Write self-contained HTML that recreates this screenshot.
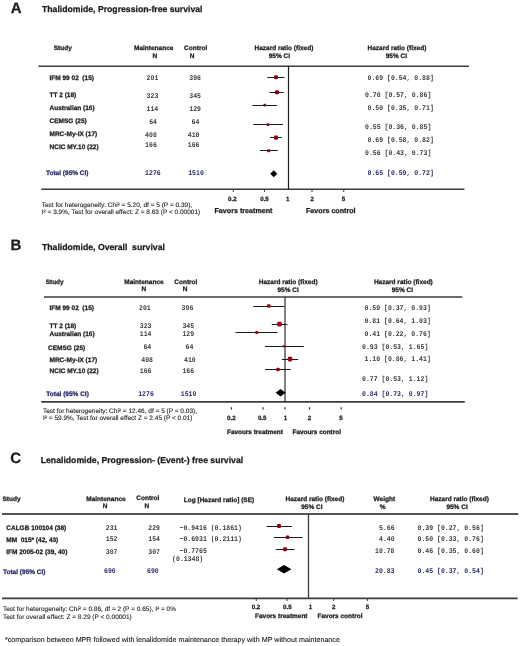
<!DOCTYPE html>
<html><head><meta charset="utf-8"><style>
html,body{margin:0;padding:0;background:#fff;overflow:hidden;width:520px;height:646px;}
svg{display:block;filter:blur(0.3px);}
text{text-rendering:geometricPrecision;}
</style></head><body>
<svg width="520" height="646" viewBox="0 0 520 646">
<rect width="520" height="646" fill="#fff"/>
<text x="10.7" y="13" font-family="Liberation Sans, sans-serif" font-weight="bold" font-size="15" text-anchor="start" fill="#1a1a1a" stroke="#1a1a1a" stroke-width="0.25"  xml:space="preserve">A</text>
<text x="42" y="12.3" font-family="Liberation Sans, sans-serif" font-weight="bold" font-size="8.68" text-anchor="start" fill="#1a1a1a" stroke="#1a1a1a" stroke-width="0.25"  xml:space="preserve">Thalidomide, Progression-free survival</text>
<text x="53.75" y="50.1" font-family="Liberation Sans, sans-serif" font-weight="bold" font-size="6.5" text-anchor="start" fill="#1a1a1a" stroke="#1a1a1a" stroke-width="0.25"  xml:space="preserve">Study</text>
<text x="134" y="50.1" font-family="Liberation Sans, sans-serif" font-weight="bold" font-size="6.5" text-anchor="start" fill="#1a1a1a" stroke="#1a1a1a" stroke-width="0.25"  xml:space="preserve">Maintenance</text>
<text x="154.9" y="58.1" font-family="Liberation Sans, sans-serif" font-weight="bold" font-size="6.5" text-anchor="middle" fill="#1a1a1a" stroke="#1a1a1a" stroke-width="0.25"  xml:space="preserve">N</text>
<text x="184.1" y="50.1" font-family="Liberation Sans, sans-serif" font-weight="bold" font-size="6.5" text-anchor="start" fill="#1a1a1a" stroke="#1a1a1a" stroke-width="0.25"  xml:space="preserve">Control</text>
<text x="192" y="58.2" font-family="Liberation Sans, sans-serif" font-weight="bold" font-size="6.5" text-anchor="middle" fill="#1a1a1a" stroke="#1a1a1a" stroke-width="0.25"  xml:space="preserve">N</text>
<text x="254.5" y="50.1" font-family="Liberation Sans, sans-serif" font-weight="bold" font-size="6.5" text-anchor="start" fill="#1a1a1a" stroke="#1a1a1a" stroke-width="0.25"  xml:space="preserve">Hazard ratio (fixed)</text>
<text x="268.7" y="58.1" font-family="Liberation Sans, sans-serif" font-weight="bold" font-size="6.5" text-anchor="start" fill="#1a1a1a" stroke="#1a1a1a" stroke-width="0.25"  xml:space="preserve">95% CI</text>
<text x="367.5" y="50.1" font-family="Liberation Sans, sans-serif" font-weight="bold" font-size="6.5" text-anchor="start" fill="#1a1a1a" stroke="#1a1a1a" stroke-width="0.25"  xml:space="preserve">Hazard ratio (fixed)</text>
<text x="385.7" y="58.1" font-family="Liberation Sans, sans-serif" font-weight="bold" font-size="6.5" text-anchor="start" fill="#1a1a1a" stroke="#1a1a1a" stroke-width="0.25"  xml:space="preserve">95% CI</text>
<line x1="38.5" y1="66.2" x2="469" y2="66.2" stroke="#3c3c3c" stroke-width="1.5"/>
<line x1="41.25" y1="189.2" x2="464.5" y2="189.2" stroke="#3c3c3c" stroke-width="1.5"/>
<line x1="288.5" y1="66" x2="288.5" y2="189.2" stroke="#1e1e1e" stroke-width="1.2"/>
<line x1="233.25" y1="189" x2="233.25" y2="192" stroke="#3c3c3c" stroke-width="1"/>
<line x1="264.5" y1="189" x2="264.5" y2="192" stroke="#3c3c3c" stroke-width="1"/>
<line x1="312" y1="189" x2="312" y2="192" stroke="#3c3c3c" stroke-width="1"/>
<line x1="343.75" y1="189" x2="343.75" y2="192" stroke="#3c3c3c" stroke-width="1"/>
<text x="232.3" y="200.5" font-family="Liberation Sans, sans-serif" font-weight="bold" font-size="6.2" text-anchor="middle" fill="#1a1a1a" stroke="#1a1a1a" stroke-width="0.25"  xml:space="preserve">0.2</text>
<text x="264.5" y="200.5" font-family="Liberation Sans, sans-serif" font-weight="bold" font-size="6.2" text-anchor="middle" fill="#1a1a1a" stroke="#1a1a1a" stroke-width="0.25"  xml:space="preserve">0.5</text>
<text x="287.8" y="200.5" font-family="Liberation Sans, sans-serif" font-weight="bold" font-size="6.2" text-anchor="middle" fill="#1a1a1a" stroke="#1a1a1a" stroke-width="0.25"  xml:space="preserve">1</text>
<text x="312.3" y="200.5" font-family="Liberation Sans, sans-serif" font-weight="bold" font-size="6.2" text-anchor="middle" fill="#1a1a1a" stroke="#1a1a1a" stroke-width="0.25"  xml:space="preserve">2</text>
<text x="343.5" y="200.5" font-family="Liberation Sans, sans-serif" font-weight="bold" font-size="6.2" text-anchor="middle" fill="#1a1a1a" stroke="#1a1a1a" stroke-width="0.25"  xml:space="preserve">5</text>
<text x="214.5" y="212.5" font-family="Liberation Sans, sans-serif" font-weight="bold" font-size="7.15" text-anchor="start" fill="#1a1a1a" stroke="#1a1a1a" stroke-width="0.25"  xml:space="preserve">Favors treatment</text>
<text x="306" y="212.5" font-family="Liberation Sans, sans-serif" font-weight="bold" font-size="7.15" text-anchor="start" fill="#1a1a1a" stroke="#1a1a1a" stroke-width="0.25"  xml:space="preserve">Favors control</text>
<text x="41.75" y="207.3" font-family="Liberation Sans, sans-serif" font-weight="normal" font-size="6.5" text-anchor="start" fill="#1a1a1a" stroke="#1a1a1a" stroke-width="0.1"  xml:space="preserve">Test for heterogeneity: Chi² = 5.20, df = 5 (P = 0.39),</text>
<text x="41.75" y="213.6" font-family="Liberation Sans, sans-serif" font-weight="normal" font-size="6.5" text-anchor="start" fill="#1a1a1a" stroke="#1a1a1a" stroke-width="0.1"  xml:space="preserve">I² = 3.9%, Test for overall effect: Z = 8.63 (P &lt; 0.00001)</text>
<text x="49.5" y="79.6" font-family="Liberation Sans, sans-serif" font-weight="bold" font-size="6.5" text-anchor="start" fill="#1a1a1a" stroke="#1a1a1a" stroke-width="0.25"  xml:space="preserve">IFM 99 02  (15)</text>
<text transform="translate(146.6 80.2) scale(1.0 1.12)" font-family="Liberation Mono, monospace" font-weight="bold" font-size="6.5" letter-spacing="0.000" fill="#3a3a3a" stroke="#3a3a3a" stroke-width="0" xml:space="preserve">201</text>
<text transform="translate(189.3 80.2) scale(1.0 1.12)" font-family="Liberation Mono, monospace" font-weight="bold" font-size="6.5" letter-spacing="0.000" fill="#3a3a3a" stroke="#3a3a3a" stroke-width="0" xml:space="preserve">396</text>
<text transform="translate(367.5 80.0) scale(1.0 1.12)" font-family="Liberation Mono, monospace" font-weight="bold" font-size="6.5" letter-spacing="0.000" fill="#3a3a3a" stroke="#3a3a3a" stroke-width="0" xml:space="preserve">0.69 [0.54, 0.88]</text>
<line x1="267.3" y1="77.5" x2="284.5" y2="77.5" stroke="#1a1a1a" stroke-width="1.0"/>
<rect x="274.05" y="75.35" width="3.90" height="3.90" rx="1.17" fill="#8e0016"/>
<text x="49.5" y="96.6" font-family="Liberation Sans, sans-serif" font-weight="bold" font-size="6.5" text-anchor="start" fill="#1a1a1a" stroke="#1a1a1a" stroke-width="0.25"  xml:space="preserve">TT 2 (18)</text>
<text transform="translate(146.6 97.9) scale(1.0 1.12)" font-family="Liberation Mono, monospace" font-weight="bold" font-size="6.5" letter-spacing="0.000" fill="#3a3a3a" stroke="#3a3a3a" stroke-width="0" xml:space="preserve">323</text>
<text transform="translate(189.3 97.9) scale(1.0 1.12)" font-family="Liberation Mono, monospace" font-weight="bold" font-size="6.5" letter-spacing="0.000" fill="#3a3a3a" stroke="#3a3a3a" stroke-width="0" xml:space="preserve">345</text>
<text transform="translate(365.0 97.0) scale(1.0 1.12)" font-family="Liberation Mono, monospace" font-weight="bold" font-size="6.5" letter-spacing="0.000" fill="#3a3a3a" stroke="#3a3a3a" stroke-width="0" xml:space="preserve">0.70 [0.57, 0.86]</text>
<line x1="269.5" y1="92.5" x2="283.7" y2="92.5" stroke="#1a1a1a" stroke-width="1.0"/>
<rect x="274.95" y="90.20" width="4.10" height="4.10" rx="1.23" fill="#8e0016"/>
<text x="49.5" y="109.6" font-family="Liberation Sans, sans-serif" font-weight="bold" font-size="6.5" text-anchor="start" fill="#1a1a1a" stroke="#1a1a1a" stroke-width="0.25"  xml:space="preserve">Australian (16)</text>
<text transform="translate(146.5 110.7) scale(1.0 1.12)" font-family="Liberation Mono, monospace" font-weight="bold" font-size="6.5" letter-spacing="0.000" fill="#3a3a3a" stroke="#3a3a3a" stroke-width="0" xml:space="preserve">114</text>
<text transform="translate(189.3 110.7) scale(1.0 1.12)" font-family="Liberation Mono, monospace" font-weight="bold" font-size="6.5" letter-spacing="0.000" fill="#3a3a3a" stroke="#3a3a3a" stroke-width="0" xml:space="preserve">129</text>
<text transform="translate(367.5 110.0) scale(1.0 1.12)" font-family="Liberation Mono, monospace" font-weight="bold" font-size="6.5" letter-spacing="0.000" fill="#3a3a3a" stroke="#3a3a3a" stroke-width="0" xml:space="preserve">0.50 [0.35, 0.71]</text>
<line x1="252.5" y1="105.5" x2="276.9" y2="105.5" stroke="#1a1a1a" stroke-width="1.0"/>
<rect x="263.35" y="103.85" width="2.70" height="2.70" rx="0.81" fill="#8e0016"/>
<text x="49.5" y="122.6" font-family="Liberation Sans, sans-serif" font-weight="bold" font-size="6.5" text-anchor="start" fill="#1a1a1a" stroke="#1a1a1a" stroke-width="0.25"  xml:space="preserve">CEMSG (25)</text>
<text transform="translate(149.2 123.7) scale(1.0 1.12)" font-family="Liberation Mono, monospace" font-weight="bold" font-size="6.5" letter-spacing="0.000" fill="#3a3a3a" stroke="#3a3a3a" stroke-width="0" xml:space="preserve">64</text>
<text transform="translate(191.5 123.7) scale(1.0 1.12)" font-family="Liberation Mono, monospace" font-weight="bold" font-size="6.5" letter-spacing="0.000" fill="#3a3a3a" stroke="#3a3a3a" stroke-width="0" xml:space="preserve">64</text>
<text transform="translate(365.0 129.0) scale(1.0 1.12)" font-family="Liberation Mono, monospace" font-weight="bold" font-size="6.5" letter-spacing="0.000" fill="#3a3a3a" stroke="#3a3a3a" stroke-width="0" xml:space="preserve">0.55 [0.36, 0.85]</text>
<line x1="253.2" y1="124.5" x2="283.0" y2="124.5" stroke="#1a1a1a" stroke-width="1.0"/>
<rect x="266.55" y="123.35" width="2.70" height="2.70" rx="0.81" fill="#8e0016"/>
<text x="49.5" y="135.6" font-family="Liberation Sans, sans-serif" font-weight="bold" font-size="6.5" text-anchor="start" fill="#1a1a1a" stroke="#1a1a1a" stroke-width="0.25"  xml:space="preserve">MRC-My-IX (17)</text>
<text transform="translate(145.1 136.7) scale(1.0 1.12)" font-family="Liberation Mono, monospace" font-weight="bold" font-size="6.5" letter-spacing="0.000" fill="#3a3a3a" stroke="#3a3a3a" stroke-width="0" xml:space="preserve">408</text>
<text transform="translate(187.8 136.7) scale(1.0 1.12)" font-family="Liberation Mono, monospace" font-weight="bold" font-size="6.5" letter-spacing="0.000" fill="#3a3a3a" stroke="#3a3a3a" stroke-width="0" xml:space="preserve">410</text>
<text transform="translate(367.5 142.0) scale(1.0 1.12)" font-family="Liberation Mono, monospace" font-weight="bold" font-size="6.5" letter-spacing="0.000" fill="#3a3a3a" stroke="#3a3a3a" stroke-width="0" xml:space="preserve">0.69 [0.58, 0.82]</text>
<line x1="270" y1="137.5" x2="281.7" y2="137.5" stroke="#1a1a1a" stroke-width="1.0"/>
<rect x="273.95" y="135.55" width="4.10" height="4.10" rx="1.23" fill="#8e0016"/>
<text x="49.5" y="148.6" font-family="Liberation Sans, sans-serif" font-weight="bold" font-size="6.5" text-anchor="start" fill="#1a1a1a" stroke="#1a1a1a" stroke-width="0.25"  xml:space="preserve">NCIC MY.10 (22)</text>
<text transform="translate(145.1 147.1) scale(1.0 1.12)" font-family="Liberation Mono, monospace" font-weight="bold" font-size="6.5" letter-spacing="0.000" fill="#3a3a3a" stroke="#3a3a3a" stroke-width="0" xml:space="preserve">166</text>
<text transform="translate(187.8 147.1) scale(1.0 1.12)" font-family="Liberation Mono, monospace" font-weight="bold" font-size="6.5" letter-spacing="0.000" fill="#3a3a3a" stroke="#3a3a3a" stroke-width="0" xml:space="preserve">166</text>
<text transform="translate(365.0 155.0) scale(1.0 1.12)" font-family="Liberation Mono, monospace" font-weight="bold" font-size="6.5" letter-spacing="0.000" fill="#3a3a3a" stroke="#3a3a3a" stroke-width="0" xml:space="preserve">0.56 [0.43, 0.73]</text>
<line x1="259.9" y1="150.5" x2="277.7" y2="150.5" stroke="#1a1a1a" stroke-width="1.0"/>
<rect x="267.05" y="149.15" width="3.10" height="3.10" rx="0.93" fill="#8e0016"/>
<text x="46" y="174.8" font-family="Liberation Sans, sans-serif" font-weight="bold" font-size="6.5" text-anchor="start" fill="#2a2a6c" stroke="#2a2a6c" stroke-width="0.25"  xml:space="preserve">Total (95% CI)</text>
<text transform="translate(145.1 174.6) scale(1.0 1.12)" font-family="Liberation Mono, monospace" font-weight="bold" font-size="6.5" letter-spacing="0.000" fill="#2a2a6c" stroke="#2a2a6c" stroke-width="0" xml:space="preserve">1276</text>
<text transform="translate(188.2 174.6) scale(1.0 1.12)" font-family="Liberation Mono, monospace" font-weight="bold" font-size="6.5" letter-spacing="0.000" fill="#2a2a6c" stroke="#2a2a6c" stroke-width="0" xml:space="preserve">1510</text>
<text transform="translate(367.5 175.0) scale(1.0 1.12)" font-family="Liberation Mono, monospace" font-weight="bold" font-size="6.5" letter-spacing="0.000" fill="#2a2a6c" stroke="#2a2a6c" stroke-width="0" xml:space="preserve">0.65 [0.59, 0.72]</text>
<polygon points="270.25,173.75 273.75,170.25 277.25,173.75 273.75,177.25" fill="#000"/>
<text x="10.5" y="250" font-family="Liberation Sans, sans-serif" font-weight="bold" font-size="15" text-anchor="start" fill="#1a1a1a" stroke="#1a1a1a" stroke-width="0.25"  xml:space="preserve">B</text>
<text x="42" y="250.2" font-family="Liberation Sans, sans-serif" font-weight="bold" font-size="8.68" text-anchor="start" fill="#1a1a1a" stroke="#1a1a1a" stroke-width="0.25"  xml:space="preserve">Thalidomide, Overall  survival</text>
<text x="45.65" y="284.1" font-family="Liberation Sans, sans-serif" font-weight="bold" font-size="6.5" text-anchor="start" fill="#1a1a1a" stroke="#1a1a1a" stroke-width="0.25"  xml:space="preserve">Study</text>
<text x="124.25" y="284.0" font-family="Liberation Sans, sans-serif" font-weight="bold" font-size="6.5" text-anchor="start" fill="#1a1a1a" stroke="#1a1a1a" stroke-width="0.25"  xml:space="preserve">Maintenance</text>
<text x="143.75" y="291.4" font-family="Liberation Sans, sans-serif" font-weight="bold" font-size="6.5" text-anchor="middle" fill="#1a1a1a" stroke="#1a1a1a" stroke-width="0.25"  xml:space="preserve">N</text>
<text x="174.25" y="284.0" font-family="Liberation Sans, sans-serif" font-weight="bold" font-size="6.5" text-anchor="start" fill="#1a1a1a" stroke="#1a1a1a" stroke-width="0.25"  xml:space="preserve">Control</text>
<text x="185" y="291.4" font-family="Liberation Sans, sans-serif" font-weight="bold" font-size="6.5" text-anchor="middle" fill="#1a1a1a" stroke="#1a1a1a" stroke-width="0.25"  xml:space="preserve">N</text>
<text x="258.75" y="284.2" font-family="Liberation Sans, sans-serif" font-weight="bold" font-size="6.5" text-anchor="start" fill="#1a1a1a" stroke="#1a1a1a" stroke-width="0.25"  xml:space="preserve">Hazard ratio (fixed)</text>
<text x="277.5" y="291.5" font-family="Liberation Sans, sans-serif" font-weight="bold" font-size="6.5" text-anchor="start" fill="#1a1a1a" stroke="#1a1a1a" stroke-width="0.25"  xml:space="preserve">95% CI</text>
<text x="373.9" y="284.1" font-family="Liberation Sans, sans-serif" font-weight="bold" font-size="6.5" text-anchor="start" fill="#1a1a1a" stroke="#1a1a1a" stroke-width="0.25"  xml:space="preserve">Hazard ratio (fixed)</text>
<text x="391.7" y="291.5" font-family="Liberation Sans, sans-serif" font-weight="bold" font-size="6.5" text-anchor="start" fill="#1a1a1a" stroke="#1a1a1a" stroke-width="0.25"  xml:space="preserve">95% CI</text>
<line x1="44" y1="297.1" x2="462.3" y2="297.1" stroke="#3c3c3c" stroke-width="1.5"/>
<line x1="41.2" y1="401.85" x2="464.8" y2="401.85" stroke="#3c3c3c" stroke-width="1.7"/>
<line x1="285" y1="297" x2="285" y2="401.8" stroke="#3c3c3c" stroke-width="1.3"/>
<line x1="231.4" y1="407.2" x2="231.4" y2="409.6" stroke="#333" stroke-width="1.2"/>
<line x1="263" y1="407.2" x2="263" y2="409.6" stroke="#333" stroke-width="1.2"/>
<line x1="285" y1="407.2" x2="285" y2="409.6" stroke="#333" stroke-width="1.2"/>
<line x1="309.5" y1="407.2" x2="309.5" y2="409.6" stroke="#333" stroke-width="1.2"/>
<line x1="341.2" y1="407.2" x2="341.2" y2="409.6" stroke="#333" stroke-width="1.2"/>
<text x="231.3" y="419.6" font-family="Liberation Sans, sans-serif" font-weight="bold" font-size="6.2" text-anchor="middle" fill="#1a1a1a" stroke="#1a1a1a" stroke-width="0.25"  xml:space="preserve">0.2</text>
<text x="262.2" y="419.6" font-family="Liberation Sans, sans-serif" font-weight="bold" font-size="6.2" text-anchor="middle" fill="#1a1a1a" stroke="#1a1a1a" stroke-width="0.25"  xml:space="preserve">0.5</text>
<text x="285.6" y="419.6" font-family="Liberation Sans, sans-serif" font-weight="bold" font-size="6.2" text-anchor="middle" fill="#1a1a1a" stroke="#1a1a1a" stroke-width="0.25"  xml:space="preserve">1</text>
<text x="309.4" y="419.6" font-family="Liberation Sans, sans-serif" font-weight="bold" font-size="6.2" text-anchor="middle" fill="#1a1a1a" stroke="#1a1a1a" stroke-width="0.25"  xml:space="preserve">2</text>
<text x="341" y="419.6" font-family="Liberation Sans, sans-serif" font-weight="bold" font-size="6.2" text-anchor="middle" fill="#1a1a1a" stroke="#1a1a1a" stroke-width="0.25"  xml:space="preserve">5</text>
<text x="227" y="433.8" font-family="Liberation Sans, sans-serif" font-weight="bold" font-size="6.42" text-anchor="start" fill="#1a1a1a" stroke="#1a1a1a" stroke-width="0.25"  xml:space="preserve">Favours treatment</text>
<text x="292.5" y="433.8" font-family="Liberation Sans, sans-serif" font-weight="bold" font-size="6.42" text-anchor="start" fill="#1a1a1a" stroke="#1a1a1a" stroke-width="0.25"  xml:space="preserve">Favours control</text>
<text x="43" y="413.1" font-family="Liberation Sans, sans-serif" font-weight="normal" font-size="6.5" text-anchor="start" fill="#1a1a1a" stroke="#1a1a1a" stroke-width="0.1"  xml:space="preserve">Test for heterogeneity: Chi² = 12.46, df = 5 (P = 0.03),</text>
<text x="43" y="419.6" font-family="Liberation Sans, sans-serif" font-weight="normal" font-size="6.5" text-anchor="start" fill="#1a1a1a" stroke="#1a1a1a" stroke-width="0.1"  xml:space="preserve">I² = 59.9%, Test for overall effect Z = 2.45 (P &lt; 0.01)</text>
<text x="49.5" y="309.8" font-family="Liberation Sans, sans-serif" font-weight="bold" font-size="6.5" text-anchor="start" fill="#1a1a1a" stroke="#1a1a1a" stroke-width="0.25"  xml:space="preserve">IFM 99 02  (15)</text>
<text transform="translate(139.0 309.8) scale(1.0 1.12)" font-family="Liberation Mono, monospace" font-weight="bold" font-size="6.5" letter-spacing="0.000" fill="#3a3a3a" stroke="#3a3a3a" stroke-width="0" xml:space="preserve">201</text>
<text transform="translate(181.6 309.8) scale(1.0 1.12)" font-family="Liberation Mono, monospace" font-weight="bold" font-size="6.5" letter-spacing="0.000" fill="#3a3a3a" stroke="#3a3a3a" stroke-width="0" xml:space="preserve">396</text>
<text transform="translate(364.5 309.5) scale(1.0 1.12)" font-family="Liberation Mono, monospace" font-weight="bold" font-size="6.5" letter-spacing="0.000" fill="#3a3a3a" stroke="#3a3a3a" stroke-width="0" xml:space="preserve">0.59 [0.37, 0.93]</text>
<line x1="253.25" y1="306.5" x2="284.5" y2="306.5" stroke="#1a1a1a" stroke-width="1.0"/>
<rect x="266.95" y="304.20" width="3.60" height="3.60" rx="1.08" fill="#a8000f"/>
<text x="49.5" y="327.5" font-family="Liberation Sans, sans-serif" font-weight="bold" font-size="6.5" text-anchor="start" fill="#1a1a1a" stroke="#1a1a1a" stroke-width="0.25"  xml:space="preserve">TT 2 (18)</text>
<text transform="translate(139.8 328.0) scale(1.0 1.12)" font-family="Liberation Mono, monospace" font-weight="bold" font-size="6.5" letter-spacing="0.000" fill="#3a3a3a" stroke="#3a3a3a" stroke-width="0" xml:space="preserve">323</text>
<text transform="translate(182.4 328.0) scale(1.0 1.12)" font-family="Liberation Mono, monospace" font-weight="bold" font-size="6.5" letter-spacing="0.000" fill="#3a3a3a" stroke="#3a3a3a" stroke-width="0" xml:space="preserve">345</text>
<text transform="translate(364.5 323.0) scale(1.0 1.12)" font-family="Liberation Mono, monospace" font-weight="bold" font-size="6.5" letter-spacing="0.000" fill="#3a3a3a" stroke="#3a3a3a" stroke-width="0" xml:space="preserve">0.81 [0.64, 1.03]</text>
<line x1="271.75" y1="324.5" x2="287.5" y2="324.5" stroke="#1a1a1a" stroke-width="1.0"/>
<rect x="277.10" y="321.70" width="4.80" height="4.80" rx="1.44" fill="#a8000f"/>
<text x="49.5" y="335.8" font-family="Liberation Sans, sans-serif" font-weight="bold" font-size="6.5" text-anchor="start" fill="#1a1a1a" stroke="#1a1a1a" stroke-width="0.25"  xml:space="preserve">Australian (16)</text>
<text transform="translate(139.8 335.6) scale(1.0 1.12)" font-family="Liberation Mono, monospace" font-weight="bold" font-size="6.5" letter-spacing="0.000" fill="#3a3a3a" stroke="#3a3a3a" stroke-width="0" xml:space="preserve">114</text>
<text transform="translate(182.4 335.6) scale(1.0 1.12)" font-family="Liberation Mono, monospace" font-weight="bold" font-size="6.5" letter-spacing="0.000" fill="#3a3a3a" stroke="#3a3a3a" stroke-width="0" xml:space="preserve">129</text>
<text transform="translate(364.5 335.5) scale(1.0 1.12)" font-family="Liberation Mono, monospace" font-weight="bold" font-size="6.5" letter-spacing="0.000" fill="#3a3a3a" stroke="#3a3a3a" stroke-width="0" xml:space="preserve">0.41 [0.22, 0.76]</text>
<line x1="235.5" y1="332.5" x2="277.5" y2="332.5" stroke="#1a1a1a" stroke-width="1.0"/>
<rect x="255.25" y="331.00" width="3.00" height="3.00" rx="0.90" fill="#a8000f"/>
<text x="48.0" y="349.8" font-family="Liberation Sans, sans-serif" font-weight="bold" font-size="6.5" text-anchor="start" fill="#1a1a1a" stroke="#1a1a1a" stroke-width="0.25"  xml:space="preserve">CEMSG (25)</text>
<text transform="translate(143.4 348.9) scale(1.0 1.12)" font-family="Liberation Mono, monospace" font-weight="bold" font-size="6.5" letter-spacing="0.000" fill="#3a3a3a" stroke="#3a3a3a" stroke-width="0" xml:space="preserve">64</text>
<text transform="translate(185.6 348.9) scale(1.0 1.12)" font-family="Liberation Mono, monospace" font-weight="bold" font-size="6.5" letter-spacing="0.000" fill="#3a3a3a" stroke="#3a3a3a" stroke-width="0" xml:space="preserve">64</text>
<text transform="translate(362.0 348.75) scale(1.0 1.12)" font-family="Liberation Mono, monospace" font-weight="bold" font-size="6.5" letter-spacing="0.000" fill="#3a3a3a" stroke="#3a3a3a" stroke-width="0" xml:space="preserve">0.93 [0.53, 1.65]</text>
<line x1="265.0" y1="346.5" x2="303.75" y2="346.5" stroke="#1a1a1a" stroke-width="1.0"/>
<rect x="282.95" y="344.95" width="2.60" height="2.60" rx="0.78" fill="#a8000f"/>
<text x="49.5" y="361.8" font-family="Liberation Sans, sans-serif" font-weight="bold" font-size="6.5" text-anchor="start" fill="#1a1a1a" stroke="#1a1a1a" stroke-width="0.25"  xml:space="preserve">MRC-My-IX (17)</text>
<text transform="translate(141.3 361.5) scale(1.0 1.12)" font-family="Liberation Mono, monospace" font-weight="bold" font-size="6.5" letter-spacing="0.000" fill="#3a3a3a" stroke="#3a3a3a" stroke-width="0" xml:space="preserve">408</text>
<text transform="translate(184.0 361.5) scale(1.0 1.12)" font-family="Liberation Mono, monospace" font-weight="bold" font-size="6.5" letter-spacing="0.000" fill="#3a3a3a" stroke="#3a3a3a" stroke-width="0" xml:space="preserve">410</text>
<text transform="translate(364.5 361.25) scale(1.0 1.12)" font-family="Liberation Mono, monospace" font-weight="bold" font-size="6.5" letter-spacing="0.000" fill="#3a3a3a" stroke="#3a3a3a" stroke-width="0" xml:space="preserve">1.10 [0.86, 1.41]</text>
<line x1="281.75" y1="359.5" x2="298.25" y2="359.5" stroke="#1a1a1a" stroke-width="1.0"/>
<rect x="287.70" y="356.80" width="4.60" height="4.60" rx="1.38" fill="#a8000f"/>
<text x="49.5" y="373.4" font-family="Liberation Sans, sans-serif" font-weight="bold" font-size="6.5" text-anchor="start" fill="#1a1a1a" stroke="#1a1a1a" stroke-width="0.25"  xml:space="preserve">NCIC MY.10 (22)</text>
<text transform="translate(139.8 373.4) scale(1.0 1.12)" font-family="Liberation Mono, monospace" font-weight="bold" font-size="6.5" letter-spacing="0.000" fill="#3a3a3a" stroke="#3a3a3a" stroke-width="0" xml:space="preserve">166</text>
<text transform="translate(182.4 373.4) scale(1.0 1.12)" font-family="Liberation Mono, monospace" font-weight="bold" font-size="6.5" letter-spacing="0.000" fill="#3a3a3a" stroke="#3a3a3a" stroke-width="0" xml:space="preserve">166</text>
<text transform="translate(362.0 381.25) scale(1.0 1.12)" font-family="Liberation Mono, monospace" font-weight="bold" font-size="6.5" letter-spacing="0.000" fill="#3a3a3a" stroke="#3a3a3a" stroke-width="0" xml:space="preserve">0.77 [0.53, 1.12]</text>
<line x1="265.0" y1="369.5" x2="290.75" y2="369.5" stroke="#1a1a1a" stroke-width="1.0"/>
<rect x="276.20" y="367.70" width="3.60" height="3.60" rx="1.08" fill="#a8000f"/>
<text x="46.3" y="395.6" font-family="Liberation Sans, sans-serif" font-weight="bold" font-size="6.5" text-anchor="start" fill="#2a2a6c" stroke="#2a2a6c" stroke-width="0.25"  xml:space="preserve">Total (95% CI)</text>
<text transform="translate(138.2 395.9) scale(1.0 1.12)" font-family="Liberation Mono, monospace" font-weight="bold" font-size="6.5" letter-spacing="0.000" fill="#2a2a6c" stroke="#2a2a6c" stroke-width="0" xml:space="preserve">1276</text>
<text transform="translate(180.8 395.9) scale(1.0 1.12)" font-family="Liberation Mono, monospace" font-weight="bold" font-size="6.5" letter-spacing="0.000" fill="#2a2a6c" stroke="#2a2a6c" stroke-width="0" xml:space="preserve">1510</text>
<text transform="translate(362.0 395.75) scale(1.0 1.12)" font-family="Liberation Mono, monospace" font-weight="bold" font-size="6.5" letter-spacing="0.000" fill="#2a2a6c" stroke="#2a2a6c" stroke-width="0" xml:space="preserve">0.84 [0.73, 0.97]</text>
<polygon points="275.6,392.7 280.6,389.0 285.6,392.7 280.6,396.4" fill="#000"/>
<text x="10.3" y="462.7" font-family="Liberation Sans, sans-serif" font-weight="bold" font-size="15" text-anchor="start" fill="#1a1a1a" stroke="#1a1a1a" stroke-width="0.25"  xml:space="preserve">C</text>
<text x="40.75" y="463.4" font-family="Liberation Sans, sans-serif" font-weight="bold" font-size="8.68" text-anchor="start" fill="#1a1a1a" stroke="#1a1a1a" stroke-width="0.25"  xml:space="preserve">Lenalidomide, Progression- (Event-) free survival</text>
<text x="2.5" y="500.8" font-family="Liberation Sans, sans-serif" font-weight="bold" font-size="6.5" text-anchor="start" fill="#1a1a1a" stroke="#1a1a1a" stroke-width="0.25"  xml:space="preserve">Study</text>
<text x="86.25" y="500.8" font-family="Liberation Sans, sans-serif" font-weight="bold" font-size="6.5" text-anchor="start" fill="#1a1a1a" stroke="#1a1a1a" stroke-width="0.25"  xml:space="preserve">Maintenance</text>
<text x="105" y="508.4" font-family="Liberation Sans, sans-serif" font-weight="bold" font-size="6.5" text-anchor="middle" fill="#1a1a1a" stroke="#1a1a1a" stroke-width="0.25"  xml:space="preserve">N</text>
<text x="136.25" y="500.4" font-family="Liberation Sans, sans-serif" font-weight="bold" font-size="6.5" text-anchor="start" fill="#1a1a1a" stroke="#1a1a1a" stroke-width="0.25"  xml:space="preserve">Control</text>
<text x="146.75" y="508.4" font-family="Liberation Sans, sans-serif" font-weight="bold" font-size="6.5" text-anchor="middle" fill="#1a1a1a" stroke="#1a1a1a" stroke-width="0.25"  xml:space="preserve">N</text>
<text x="183.75" y="501.7" font-family="Liberation Sans, sans-serif" font-weight="bold" font-size="6.5" text-anchor="start" fill="#1a1a1a" stroke="#1a1a1a" stroke-width="0.25"  xml:space="preserve">Log [Hazard ratio] (SE)</text>
<text x="285.5" y="500.8" font-family="Liberation Sans, sans-serif" font-weight="bold" font-size="6.5" text-anchor="start" fill="#1a1a1a" stroke="#1a1a1a" stroke-width="0.25"  xml:space="preserve">Hazard ratio (fixed)</text>
<text x="301.25" y="508.5" font-family="Liberation Sans, sans-serif" font-weight="bold" font-size="6.5" text-anchor="start" fill="#1a1a1a" stroke="#1a1a1a" stroke-width="0.25"  xml:space="preserve">95% CI</text>
<text x="373.5" y="500.5" font-family="Liberation Sans, sans-serif" font-weight="bold" font-size="6.5" text-anchor="start" fill="#1a1a1a" stroke="#1a1a1a" stroke-width="0.25"  xml:space="preserve">Weight</text>
<text x="382.7" y="508.8" font-family="Liberation Sans, sans-serif" font-weight="bold" font-size="6.5" text-anchor="middle" fill="#1a1a1a" stroke="#1a1a1a" stroke-width="0.25"  xml:space="preserve">%</text>
<text x="430" y="500.5" font-family="Liberation Sans, sans-serif" font-weight="bold" font-size="6.5" text-anchor="start" fill="#1a1a1a" stroke="#1a1a1a" stroke-width="0.25"  xml:space="preserve">Hazard ratio (fixed)</text>
<text x="446.4" y="508.8" font-family="Liberation Sans, sans-serif" font-weight="bold" font-size="6.5" text-anchor="start" fill="#1a1a1a" stroke="#1a1a1a" stroke-width="0.25"  xml:space="preserve">95% CI</text>
<line x1="2" y1="513.9" x2="518.3" y2="513.9" stroke="#555" stroke-width="2"/>
<line x1="2" y1="598.4" x2="517.7" y2="598.4" stroke="#3c3c3c" stroke-width="1.6"/>
<line x1="308.5" y1="514" x2="308.5" y2="598.4" stroke="#3c3c3c" stroke-width="1.3"/>
<line x1="256.25" y1="598.4" x2="256.25" y2="601" stroke="#3c3c3c" stroke-width="1"/>
<line x1="287" y1="598.4" x2="287" y2="601" stroke="#3c3c3c" stroke-width="1"/>
<line x1="333.75" y1="598.4" x2="333.75" y2="601" stroke="#3c3c3c" stroke-width="1"/>
<line x1="367.3" y1="598.4" x2="367.3" y2="601" stroke="#3c3c3c" stroke-width="1"/>
<text x="256" y="609.2" font-family="Liberation Sans, sans-serif" font-weight="bold" font-size="6.2" text-anchor="middle" fill="#1a1a1a" stroke="#1a1a1a" stroke-width="0.25"  xml:space="preserve">0.2</text>
<text x="287.3" y="609.2" font-family="Liberation Sans, sans-serif" font-weight="bold" font-size="6.2" text-anchor="middle" fill="#1a1a1a" stroke="#1a1a1a" stroke-width="0.25"  xml:space="preserve">0.5</text>
<text x="310.5" y="609.2" font-family="Liberation Sans, sans-serif" font-weight="bold" font-size="6.2" text-anchor="middle" fill="#1a1a1a" stroke="#1a1a1a" stroke-width="0.25"  xml:space="preserve">1</text>
<text x="333.8" y="609.2" font-family="Liberation Sans, sans-serif" font-weight="bold" font-size="6.2" text-anchor="middle" fill="#1a1a1a" stroke="#1a1a1a" stroke-width="0.25"  xml:space="preserve">2</text>
<text x="367.5" y="609.2" font-family="Liberation Sans, sans-serif" font-weight="bold" font-size="6.2" text-anchor="middle" fill="#1a1a1a" stroke="#1a1a1a" stroke-width="0.25"  xml:space="preserve">5</text>
<text x="255" y="617.6" font-family="Liberation Sans, sans-serif" font-weight="bold" font-size="6.47" text-anchor="start" fill="#1a1a1a" stroke="#1a1a1a" stroke-width="0.25"  xml:space="preserve">Favors treatment</text>
<text x="317.5" y="617.6" font-family="Liberation Sans, sans-serif" font-weight="bold" font-size="6.47" text-anchor="start" fill="#1a1a1a" stroke="#1a1a1a" stroke-width="0.25"  xml:space="preserve">Favors control</text>
<text x="3" y="610.8" font-family="Liberation Sans, sans-serif" font-weight="normal" font-size="6.5" text-anchor="start" fill="#1a1a1a" stroke="#1a1a1a" stroke-width="0.1"  xml:space="preserve">Test for heterogeneity: Chi² = 0.86, df = 2 (P = 0.65), I² = 0%</text>
<text x="3" y="618.8" font-family="Liberation Sans, sans-serif" font-weight="normal" font-size="6.5" text-anchor="start" fill="#1a1a1a" stroke="#1a1a1a" stroke-width="0.1"  xml:space="preserve">Test for overall effect: Z = 8.29 (P &lt; 0.00001)</text>
<text x="5" y="641.8" font-family="Liberation Sans, sans-serif" font-weight="normal" font-size="7.15" text-anchor="start" fill="#1a1a1a" stroke="#1a1a1a" stroke-width="0.1"  xml:space="preserve">*comparison between MPR followed with lenalidomide maintenance therapy with MP without maintenance</text>
<text x="6.25" y="530.0" font-family="Liberation Sans, sans-serif" font-weight="bold" font-size="6.5" text-anchor="start" fill="#1a1a1a" stroke="#1a1a1a" stroke-width="0.25"  xml:space="preserve">CALGB 100104 (38)</text>
<text transform="translate(105.75 529.6) scale(1.0 1.12)" font-family="Liberation Mono, monospace" font-weight="bold" font-size="6.5" letter-spacing="0.000" fill="#3a3a3a" stroke="#3a3a3a" stroke-width="0" xml:space="preserve">231</text>
<text transform="translate(148.25 529.6) scale(1.0 1.12)" font-family="Liberation Mono, monospace" font-weight="bold" font-size="6.5" letter-spacing="0.000" fill="#3a3a3a" stroke="#3a3a3a" stroke-width="0" xml:space="preserve">229</text>
<text transform="translate(179.5 529.6) scale(1.0 1.12)" font-family="Liberation Mono, monospace" font-weight="bold" font-size="6.5" letter-spacing="0.000" fill="#3a3a3a" stroke="#3a3a3a" stroke-width="0" xml:space="preserve">−0.9416 (0.1861)</text>
<text transform="translate(379.0 529.6) scale(1.0 1.12)" font-family="Liberation Mono, monospace" font-weight="bold" font-size="6.5" letter-spacing="0.000" fill="#3a3a3a" stroke="#3a3a3a" stroke-width="0" xml:space="preserve">5.66</text>
<text transform="translate(417.5 529.6) scale(1.0 1.12)" font-family="Liberation Mono, monospace" font-weight="bold" font-size="6.5" letter-spacing="0.000" fill="#3a3a3a" stroke="#3a3a3a" stroke-width="0" xml:space="preserve">0.39 [0.27, 0.56]</text>
<line x1="266.5" y1="526.5" x2="292.0" y2="526.5" stroke="#1a1a1a" stroke-width="1.0"/>
<rect x="277.00" y="524.00" width="4.00" height="4.00" rx="1.20" fill="#900016"/>
<text x="6.25" y="542.4" font-family="Liberation Sans, sans-serif" font-weight="bold" font-size="6.5" text-anchor="start" fill="#1a1a1a" stroke="#1a1a1a" stroke-width="0.25"  xml:space="preserve">MM  015* (42, 43)</text>
<text transform="translate(105.75 541.3) scale(1.0 1.12)" font-family="Liberation Mono, monospace" font-weight="bold" font-size="6.5" letter-spacing="0.000" fill="#3a3a3a" stroke="#3a3a3a" stroke-width="0" xml:space="preserve">152</text>
<text transform="translate(148.25 541.3) scale(1.0 1.12)" font-family="Liberation Mono, monospace" font-weight="bold" font-size="6.5" letter-spacing="0.000" fill="#3a3a3a" stroke="#3a3a3a" stroke-width="0" xml:space="preserve">154</text>
<text transform="translate(179.5 541.3) scale(1.0 1.12)" font-family="Liberation Mono, monospace" font-weight="bold" font-size="6.5" letter-spacing="0.000" fill="#3a3a3a" stroke="#3a3a3a" stroke-width="0" xml:space="preserve">−0.6931 (0.2111)</text>
<text transform="translate(379.0 540.8) scale(1.0 1.12)" font-family="Liberation Mono, monospace" font-weight="bold" font-size="6.5" letter-spacing="0.000" fill="#3a3a3a" stroke="#3a3a3a" stroke-width="0" xml:space="preserve">4.40</text>
<text transform="translate(417.5 540.8) scale(1.0 1.12)" font-family="Liberation Mono, monospace" font-weight="bold" font-size="6.5" letter-spacing="0.000" fill="#3a3a3a" stroke="#3a3a3a" stroke-width="0" xml:space="preserve">0.50 [0.33, 0.76]</text>
<line x1="273.75" y1="537.5" x2="302.5" y2="537.5" stroke="#1a1a1a" stroke-width="1.0"/>
<rect x="285.75" y="535.50" width="3.50" height="3.50" rx="1.05" fill="#900016"/>
<text x="6.25" y="554.4" font-family="Liberation Sans, sans-serif" font-weight="bold" font-size="6.5" text-anchor="start" fill="#1a1a1a" stroke="#1a1a1a" stroke-width="0.25"  xml:space="preserve">IFM 2005-02 (39, 40)</text>
<text transform="translate(105.75 554.0) scale(1.0 1.12)" font-family="Liberation Mono, monospace" font-weight="bold" font-size="6.5" letter-spacing="0.000" fill="#3a3a3a" stroke="#3a3a3a" stroke-width="0" xml:space="preserve">307</text>
<text transform="translate(148.25 554.0) scale(1.0 1.12)" font-family="Liberation Mono, monospace" font-weight="bold" font-size="6.5" letter-spacing="0.000" fill="#3a3a3a" stroke="#3a3a3a" stroke-width="0" xml:space="preserve">307</text>
<text transform="translate(179.5 553.3) scale(1.0 1.12)" font-family="Liberation Mono, monospace" font-weight="bold" font-size="6.5" letter-spacing="0.000" fill="#3a3a3a" stroke="#3a3a3a" stroke-width="0" xml:space="preserve">−0.7765</text>
<text transform="translate(375.0 553.3) scale(1.0 1.12)" font-family="Liberation Mono, monospace" font-weight="bold" font-size="6.5" letter-spacing="0.000" fill="#3a3a3a" stroke="#3a3a3a" stroke-width="0" xml:space="preserve">10.78</text>
<text transform="translate(417.5 553.3) scale(1.0 1.12)" font-family="Liberation Mono, monospace" font-weight="bold" font-size="6.5" letter-spacing="0.000" fill="#3a3a3a" stroke="#3a3a3a" stroke-width="0" xml:space="preserve">0.46 [0.35, 0.60]</text>
<line x1="275.75" y1="549.5" x2="294.5" y2="549.5" stroke="#1a1a1a" stroke-width="1.0"/>
<rect x="283.00" y="547.25" width="4.00" height="4.00" rx="1.20" fill="#900016"/>
<text transform="translate(172.0 561.3) scale(1.0 1.12)" font-family="Liberation Mono, monospace" font-weight="bold" font-size="6.5" letter-spacing="0.000" fill="#3a3a3a" stroke="#3a3a3a" stroke-width="0" xml:space="preserve">(0.1348)</text>
<text x="3" y="573.6" font-family="Liberation Sans, sans-serif" font-weight="bold" font-size="6.5" text-anchor="start" fill="#2a2a6c" stroke="#2a2a6c" stroke-width="0.25"  xml:space="preserve">Total (95% CI)</text>
<text transform="translate(104.0 573.3) scale(1.0 1.12)" font-family="Liberation Mono, monospace" font-weight="bold" font-size="6.5" letter-spacing="0.000" fill="#2a2a6c" stroke="#2a2a6c" stroke-width="0" xml:space="preserve">690</text>
<text transform="translate(147.0 573.3) scale(1.0 1.12)" font-family="Liberation Mono, monospace" font-weight="bold" font-size="6.5" letter-spacing="0.000" fill="#2a2a6c" stroke="#2a2a6c" stroke-width="0" xml:space="preserve">690</text>
<text transform="translate(375.0 572.6) scale(1.0 1.12)" font-family="Liberation Mono, monospace" font-weight="bold" font-size="6.5" letter-spacing="0.000" fill="#2a2a6c" stroke="#2a2a6c" stroke-width="0" xml:space="preserve">20.83</text>
<text transform="translate(417.5 572.6) scale(1.0 1.12)" font-family="Liberation Mono, monospace" font-weight="bold" font-size="6.5" letter-spacing="0.000" fill="#2a2a6c" stroke="#2a2a6c" stroke-width="0" xml:space="preserve">0.45 [0.37, 0.54]</text>
<polygon points="276.8,569.2 284.1,565.0 291.40000000000003,569.2 284.1,573.4000000000001" fill="#000"/>
</svg>
</body></html>
